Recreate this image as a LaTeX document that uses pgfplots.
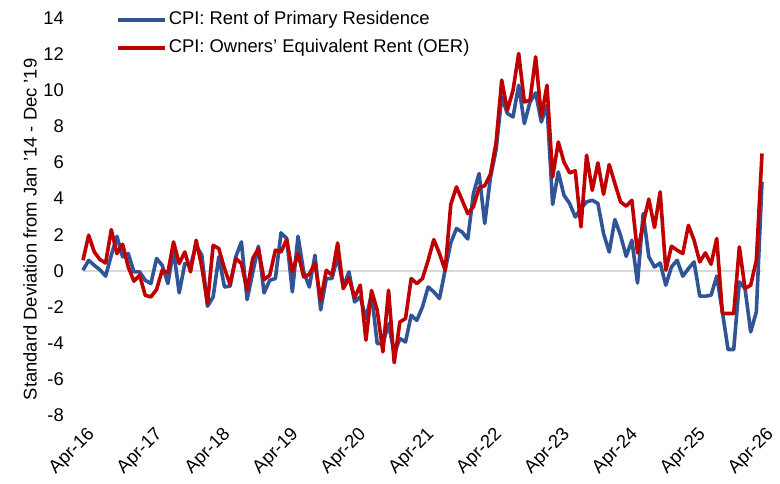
\documentclass[border=0pt]{standalone}
\usepackage{fontspec}
\setmainfont{Liberation Sans}
\usepackage{pgfplots}
\usepackage{pgfplotstable}
\pgfplotsset{compat=1.18}
\definecolor{cpiblue}{RGB}{47,85,151}
\definecolor{cpired}{RGB}{192,0,0}
\definecolor{zerogray}{RGB}{217,217,217}
\pgfplotstableread{
m red blue
0 0.58 0.03
1 1.97 0.58
2 1.04 0.30
3 0.62 0.05
4 0.43 -0.30
5 2.28 0.86
6 0.95 1.91
7 1.47 0.77
8 0.21 0.95
9 -0.58 -0.06
10 -0.25 -0.06
11 -1.36 -0.53
12 -1.45 -0.71
13 -1.04 0.68
14 0.03 0.30
15 -0.12 -0.71
16 1.60 1.14
17 0.40 -1.23
18 1.04 0.40
19 -0.06 0.30
20 1.69 1.40
21 0.21 0.86
22 -1.82 -1.97
23 1.41 -1.45
24 1.23 0.77
25 0.12 -0.90
26 -0.75 -0.85
27 0.68 0.77
28 0.40 1.60
29 -1.08 -1.60
30 0.68 -0.10
31 1.23 1.36
32 -0.49 -1.23
33 -0.25 -0.53
34 1.14 -0.43
35 1.04 2.10
36 1.73 1.79
37 -0.06 -1.17
38 0.95 1.91
39 -0.34 -0.06
40 -0.20 -0.90
41 0.43 0.86
42 -1.64 -2.17
43 0.03 -0.43
44 -0.25 -0.43
45 1.54 0.80
46 -0.99 -0.90
47 -0.40 -0.06
48 -1.50 -1.73
49 -0.80 -1.45
50 -3.85 -2.65
51 -1.10 -1.30
52 -2.19 -4.04
53 -4.50 -4.04
54 -1.08 -2.93
55 -5.10 -4.60
56 -2.84 -3.76
57 -2.65 -3.95
58 -0.43 -2.47
59 -0.71 -2.75
60 -0.43 -2.00
61 0.58 -0.90
62 1.73 -1.17
63 0.95 -1.54
64 0.03 0.03
65 3.68 1.55
66 4.65 2.34
67 3.91 2.15
68 3.17 1.76
69 3.55 4.28
70 4.60 5.39
71 4.72 2.62
72 5.35 5.15
73 7.10 6.70
74 10.57 9.64
75 8.90 8.72
76 10.01 8.53
77 12.05 10.29
78 9.36 8.16
79 9.46 9.36
80 11.86 9.86
81 8.53 8.25
82 10.29 9.18
83 5.20 3.68
84 7.14 5.48
85 6.03 4.19
86 5.43 3.73
87 5.54 2.98
88 2.43 3.45
89 6.41 3.82
90 4.46 3.91
91 5.98 3.73
92 4.24 2.06
93 5.89 1.04
94 4.84 2.84
95 3.82 1.97
96 3.58 0.80
97 3.91 1.69
98 0.99 -0.68
99 2.62 3.17
100 3.97 0.77
101 2.40 0.21
102 4.37 0.43
103 0.03 -0.80
104 1.36 0.21
105 1.14 0.58
106 0.95 -0.30
107 2.52 0.12
108 1.69 0.49
109 0.49 -1.41
110 0.99 -1.41
111 0.36 -1.36
112 1.79 -0.30
113 -2.37 -2.28
114 -2.37 -4.37
115 -2.37 -4.37
116 1.32 -0.62
117 -0.99 -0.99
118 -0.80 -3.39
119 0.58 -2.28
120 6.50 4.93
}\datatable
\begin{document}
\begin{tikzpicture}
\path (0,0) rectangle (780pt,483pt);
\begin{axis}[
  at={(83pt,68pt)}, anchor=south west,
  scale only axis, width=679pt, height=396.7pt,
  xmin=0, xmax=120, ymin=-8, ymax=14,
  axis line style={draw=none},
  major tick length=0pt,
  tick style={draw=none},
  xtick={0,12,...,120},
  xticklabels={Apr-16,Apr-17,Apr-18,Apr-19,Apr-20,Apr-21,Apr-22,Apr-23,Apr-24,Apr-25,Apr-26},
  ytick={-8,-6,...,14},
  /pgf/number format/assume math mode=true,
  tick label style={font=\fontsize{18.4}{20}\selectfont},
  yticklabel style={anchor=east, inner sep=0pt, xshift=-19pt},
  xticklabel style={xshift=9pt, yshift=-17pt, rotate=45, anchor=east, inner sep=0pt},
  every axis y label/.style={at={(rel axis cs:-0.078,0.468)}, rotate=90, anchor=center},
  ylabel={Standard Deviation from Jan '14 - Dec '19},
  label style={font=\fontsize{18.4}{20}\selectfont},
  legend style={at={(axis cs:5.83,13.14)}, anchor=west, draw=none, fill=none,
    inner sep=0pt, row sep=11pt, column sep=2pt,
    font=\fontsize{18.4}{20}\selectfont,
    nodes={inner sep=0pt, text height=13pt, text depth=4pt}},
  legend cell align=left,
  legend image code/.code={\draw[#1] (0pt,0pt) -- (47pt,0pt);},
  clip=false,
]
\addplot[forget plot, zerogray, line width=2pt] coordinates {(0,0) (120,0)};
\addplot[cpiblue, line width=3.6pt, line join=round] table[x=m, y=blue] {\datatable};
\addlegendentry{CPI: Rent of Primary Residence}
\addplot[cpired, line width=3.6pt, line join=round] table[x=m, y=red] {\datatable};
\addlegendentry{CPI: Owners' Equivalent Rent (OER)}
\end{axis}
\end{tikzpicture}
\end{document}
